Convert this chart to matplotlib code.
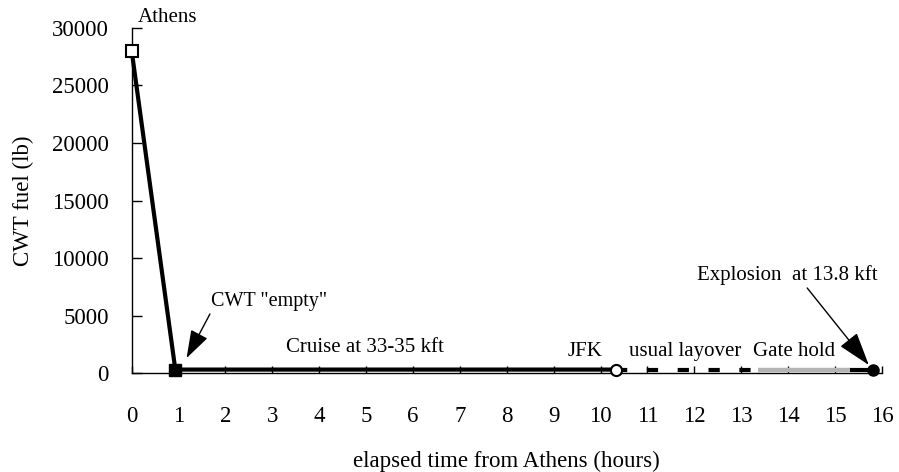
import matplotlib
matplotlib.use("Agg")
import matplotlib.pyplot as plt

plt.rcParams['font.family'] = ['Liberation Serif', 'DejaVu Serif']

# Data (hours, lb)
flight_t = [0.0, 0.93, 10.33]
flight_fuel = [28000, 300, 300]
layover_t = [10.33, 13.35]
layover_fuel = [300, 300]
gate_t = [13.35, 15.32]
gate_fuel = [300, 300]
climb_t = [15.32, 15.8]
climb_fuel = [300, 300]

xticks = list(range(0, 17))
yticks = [0, 5000, 10000, 15000, 20000, 25000, 30000]

fig = plt.figure(figsize=(8.99, 4.72), dpi=100)
ax = fig.add_axes([0.1465, 0.2097, 0.981 - 0.1465, 0.9407 - 0.2097])

ax.plot(flight_t, flight_fuel, color='black', lw=3, solid_capstyle='butt', zorder=3, clip_on=False)
ax.plot(layover_t, layover_fuel, color='black', lw=3, dashes=(2.7, 4.7), zorder=3, clip_on=False)
ax.plot(gate_t, gate_fuel, color='#b4b4b4', lw=3.2, solid_capstyle='butt', zorder=3, clip_on=False)
ax.plot(climb_t, climb_fuel, color='black', lw=3, solid_capstyle='butt', zorder=3, clip_on=False)

# markers
ax.plot([flight_t[0]], [flight_fuel[0]], marker='s', ms=8, mfc='white', mec='black', mew=1.5, zorder=5, clip_on=False)
ax.plot([flight_t[1]], [flight_fuel[1]], marker='s', ms=8, mfc='black', mec='black', zorder=5, clip_on=False)
ax.plot([flight_t[2]], [flight_fuel[2]], marker='o', ms=8, mfc='white', mec='black', mew=1.5, zorder=5, clip_on=False)
ax.plot([climb_t[1]], [climb_fuel[1]], marker='o', ms=8, mfc='black', mec='black', zorder=5, clip_on=False)

ax.set_xlim(0, 16)
ax.set_ylim(0, 30000)
ax.set_xticks(xticks)
ax.set_yticks(yticks)
ax.spines['top'].set_visible(False)
ax.spines['right'].set_visible(False)
ax.spines['left'].set_linewidth(1)
ax.spines['bottom'].set_linewidth(1)
ax.tick_params(axis='x', direction='in', length=5, width=1, labelsize=16.5, pad=24)
ax.tick_params(axis='y', direction='in', length=7, width=1, labelsize=16.5, pad=16.5)

ax.set_xlabel('elapsed time from Athens (hours)', fontsize=16.5, labelpad=17)
ax.set_ylabel('CWT fuel (lb)', fontsize=16.5, labelpad=13)

fs = 15
ax.text(0.13, 30100, 'Athens', fontsize=fs, ha='left', va='bottom')
ax.annotate('CWT "empty"', xy=(1.17, 1300), xytext=(1.7, 6200), fontsize=14.5,
            ha='left', va='center',
            arrowprops=dict(arrowstyle='-|>,head_length=1.2,head_width=0.4', color='black', lw=1,
                            shrinkA=0, shrinkB=0, relpos=(0.0, 0.0)))
ax.text(3.3, 2200, 'Cruise at 33-35 kft', fontsize=fs, ha='left', va='center')
ax.text(9.3, 1900, 'JFK', fontsize=fs, ha='left', va='center')
ax.text(10.6, 1900, 'usual layover', fontsize=fs, ha='left', va='center')
ax.text(13.25, 1900, 'Gate hold', fontsize=fs, ha='left', va='center')
ax.annotate('Explosion  at 13.8 kft', xy=(15.72, 700), xytext=(15.9, 8500), fontsize=fs,
            ha='right', va='center',
            arrowprops=dict(arrowstyle='-|>,head_length=1.4,head_width=0.45', color='black', lw=1,
                            shrinkA=0, shrinkB=0, relpos=(0.6, 0.0)))

fig.savefig('out.png', dpi=100)
